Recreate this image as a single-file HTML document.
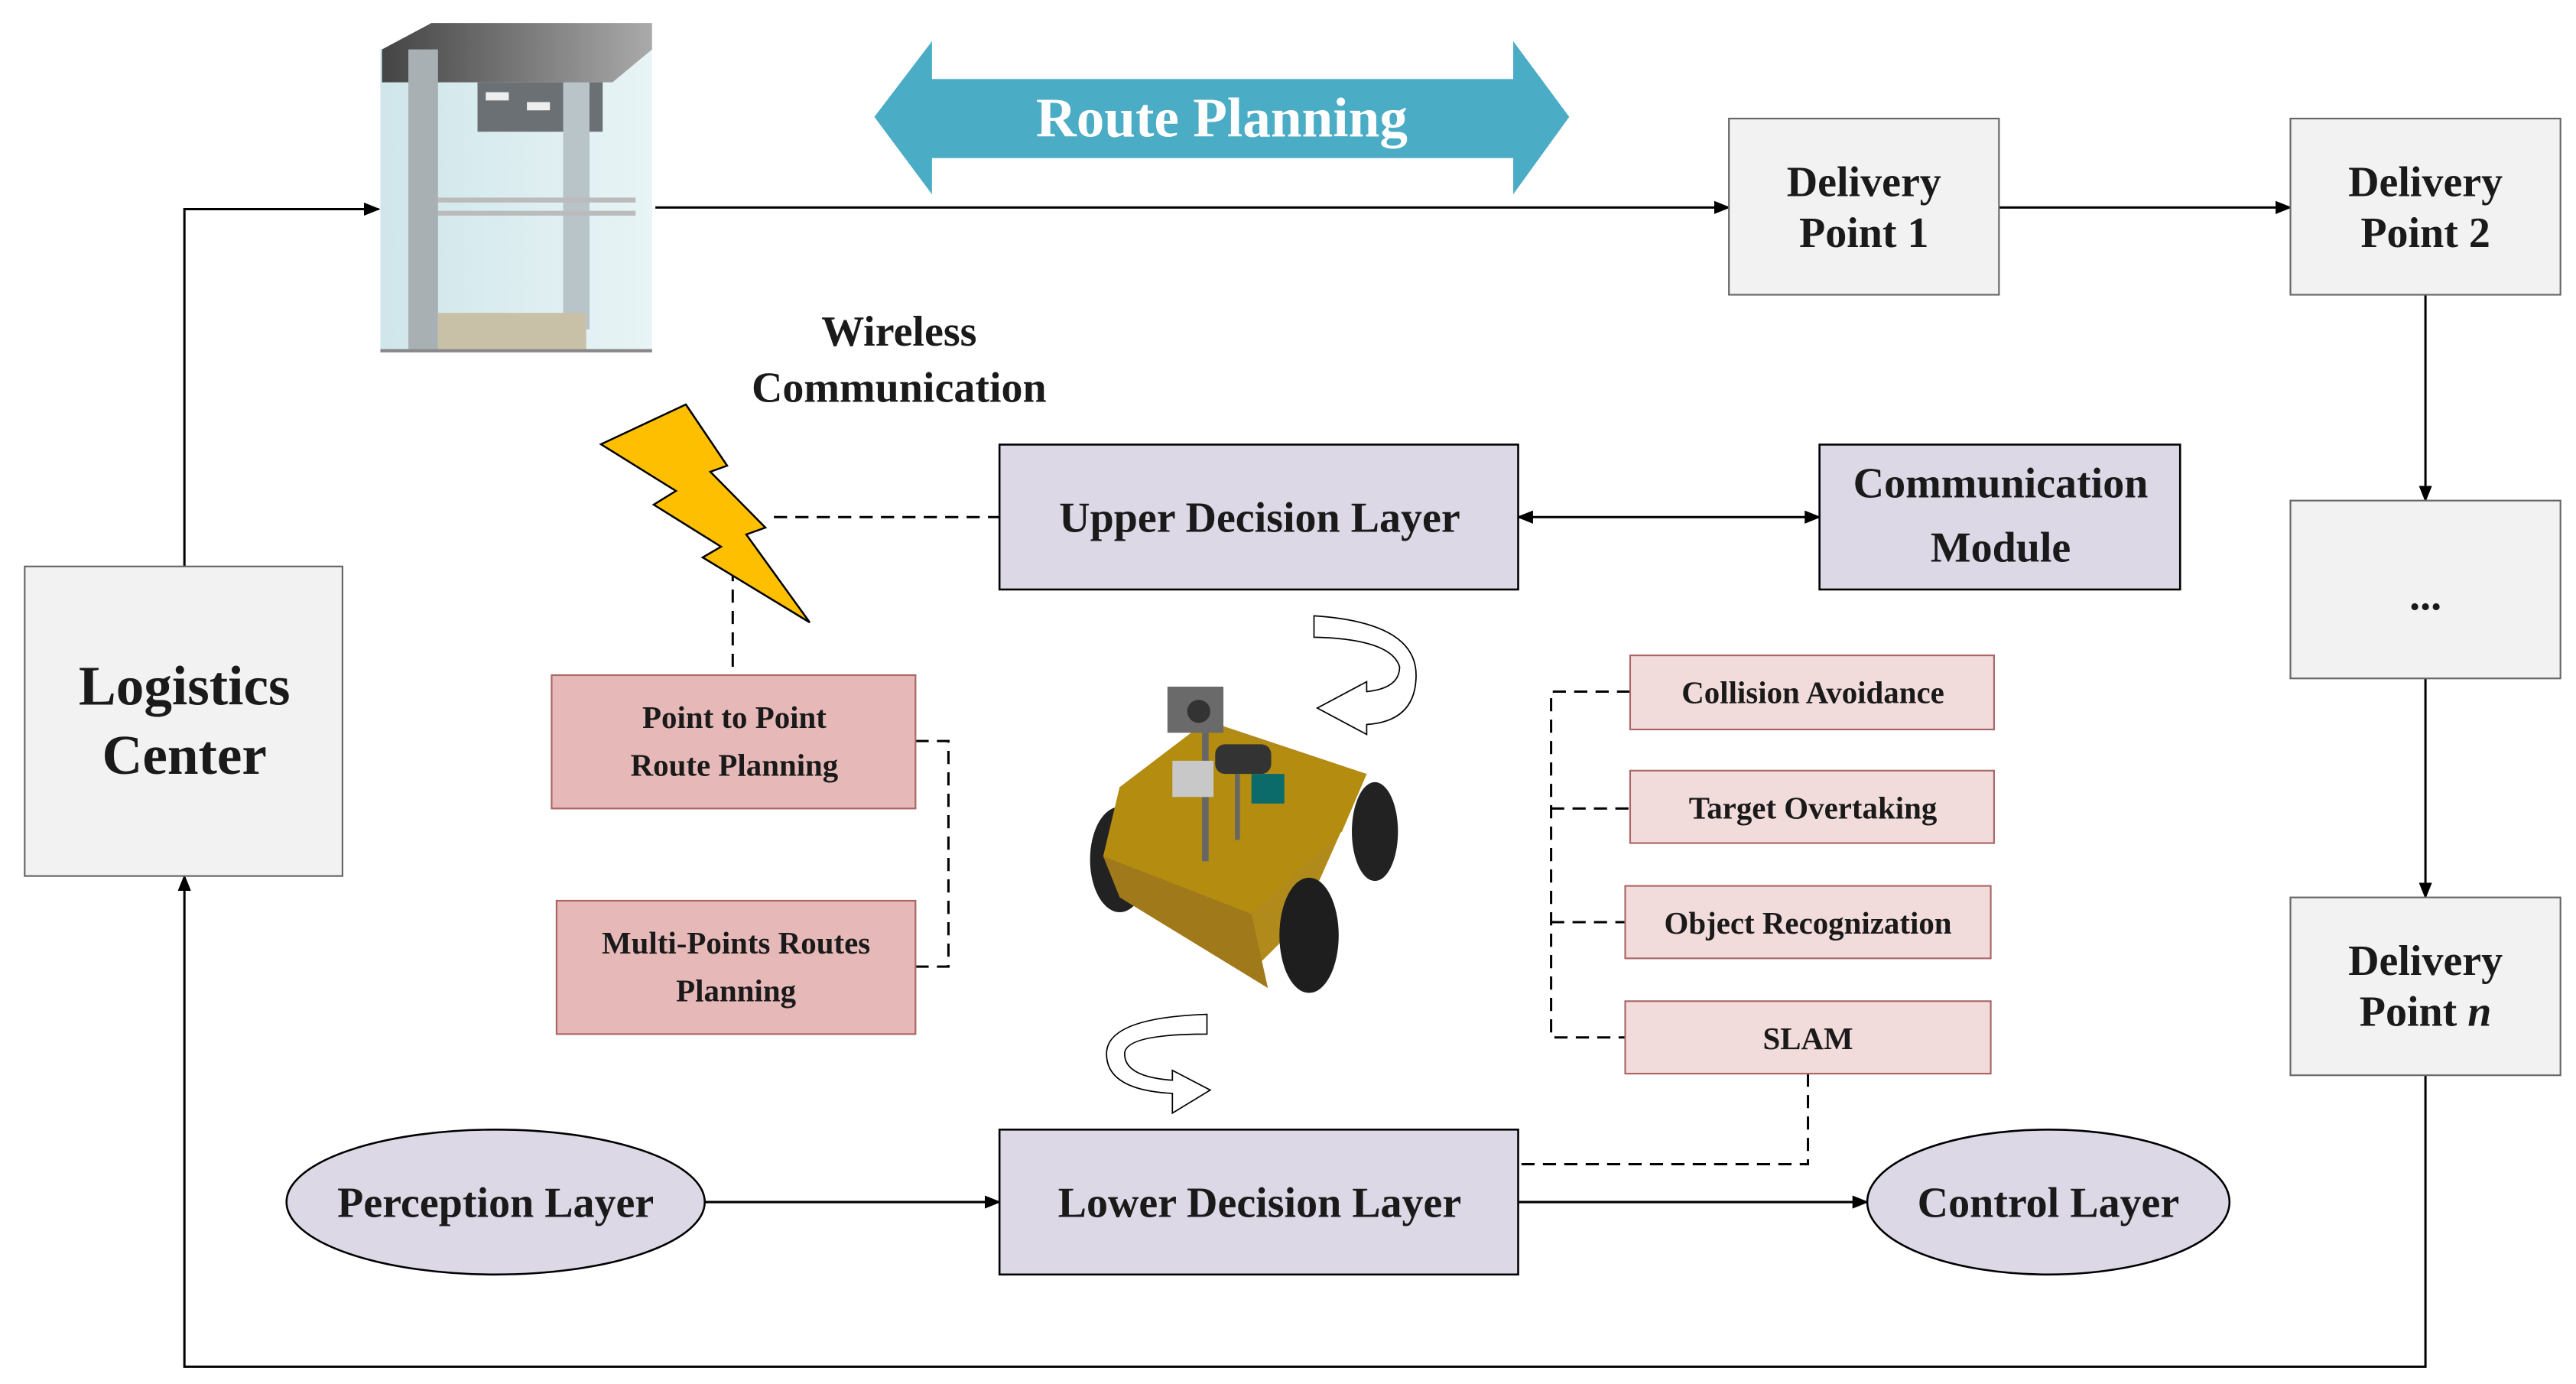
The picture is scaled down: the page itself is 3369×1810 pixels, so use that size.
<!DOCTYPE html>
<html><head><meta charset="utf-8"><style>
html,body{margin:0;padding:0;background:#fff;}
svg{display:block;}
text{font-family:"Liberation Serif",serif;font-weight:bold;fill:#1a1a1a;}
</style></head><body>
<svg width="3369" height="1810" viewBox="0 0 3369 1810" xmlns="http://www.w3.org/2000/svg">
<defs>
<marker id="ar" markerWidth="10" markerHeight="8" refX="9" refY="4" orient="auto" markerUnits="userSpaceOnUse"><path d="M0,0 L10,4 L0,8 z" fill="#000"/></marker>
<marker id="al" markerWidth="10" markerHeight="8" refX="1" refY="4" orient="auto" markerUnits="userSpaceOnUse"><path d="M10,0 L0,4 L10,8 z" fill="#000"/></marker>
<linearGradient id="gl" x1="0" x2="1"><stop offset="0" stop-color="#cfe6ea"/><stop offset="1" stop-color="#e8f4f6"/></linearGradient>
<linearGradient id="rf" x1="0" x2="1"><stop offset="0" stop-color="#444"/><stop offset="1" stop-color="#aaa"/></linearGradient>
</defs>
<g transform="scale(2.1535)">
<rect x="231" y="30" width="165" height="183" fill="url(#gl)"/>
<polygon points="232,30 262,14 396,14 396,30 372,50 232,50" fill="url(#rf)"/>
<rect x="290" y="50" width="76" height="30" fill="#6a7074"/>
<rect x="295" y="56" width="14" height="5" fill="#eee"/>
<rect x="320" y="62" width="14" height="5" fill="#eee"/>
<rect x="248" y="30" width="18" height="182" fill="#a8b0b4"/>
<rect x="342" y="50" width="16" height="150" fill="#b8c4c8"/>
<rect x="266" y="120" width="120" height="3" fill="#bbb"/>
<rect x="266" y="128" width="120" height="3" fill="#bbb"/>
<rect x="266" y="190" width="90" height="22" fill="#c9c0a8"/>
<rect x="231" y="212" width="165" height="2" fill="#888"/>
<polygon points="531,71 566,25 566,48 919,48 919,25 953,71 919,118 919,96 566,96 566,118" fill="#4bacc6"/>
<text x="742" y="83" font-size="34" text-anchor="middle" style="fill:#fff">Route Planning</text>
<g stroke="#000" stroke-width="1.4" fill="none">
<line x1="398" y1="126" x2="1050" y2="126" marker-end="url(#ar)"/>
<line x1="1214" y1="126" x2="1391" y2="126" marker-end="url(#ar)"/>
<line x1="1473" y1="179" x2="1473" y2="304" marker-end="url(#ar)"/>
<line x1="1473" y1="412" x2="1473" y2="545" marker-end="url(#ar)"/>
<polyline points="1473,653 1473,830 112,830 112,532" marker-end="url(#ar)"/>
<polyline points="112,344 112,127 230,127" marker-end="url(#ar)"/>
<line x1="922" y1="314" x2="1105" y2="314" marker-start="url(#al)" marker-end="url(#ar)"/>
<line x1="428" y1="730" x2="607" y2="730" marker-end="url(#ar)"/>
<line x1="922" y1="730" x2="1134" y2="730" marker-end="url(#ar)"/>
</g>
<g stroke="#000" stroke-width="1.4" fill="none" stroke-dasharray="8,5">
<line x1="470" y1="314" x2="607" y2="314"/>
<line x1="445" y1="345" x2="445" y2="410"/>
<polyline points="556,450 576,450 576,587 556,587"/>
<polyline points="990,420 942,420 942,630 987,630"/>
<line x1="942" y1="491" x2="990" y2="491"/>
<line x1="942" y1="560" x2="987" y2="560"/>
<polyline points="1098,652 1098,707 922,707"/>
</g>
<g stroke="#666" stroke-width="1">
<rect x="1050" y="72" width="164" height="107" fill="#f2f2f2"/>
<rect x="1391" y="72" width="164" height="107" fill="#f2f2f2"/>
<rect x="1391" y="304" width="164" height="108" fill="#f2f2f2"/>
<rect x="1391" y="545" width="164" height="108" fill="#f2f2f2"/>
<rect x="15" y="344" width="193" height="188" fill="#f2f2f2"/>
</g>
<g stroke="#000" stroke-width="1.2">
<rect x="607" y="270" width="315" height="88" fill="#dcd8e6"/>
<rect x="1105" y="270" width="219" height="88" fill="#dcd8e6"/>
<rect x="607" y="686" width="315" height="88" fill="#dcd8e6"/>
<ellipse cx="301" cy="730" rx="127" ry="44" fill="#dcd8e6"/>
<ellipse cx="1244" cy="730" rx="110" ry="44" fill="#dcd8e6"/>
</g>
<g stroke="#a66" stroke-width="1">
<rect x="335" y="410" width="221" height="81" fill="#e6b9b8"/>
<rect x="338" y="547" width="218" height="81" fill="#e6b9b8"/>
<rect x="990" y="398" width="221" height="45" fill="#f2dcdb"/>
<rect x="990" y="468" width="221" height="44" fill="#f2dcdb"/>
<rect x="987" y="538" width="222" height="44" fill="#f2dcdb"/>
<rect x="987" y="608" width="222" height="44" fill="#f2dcdb"/>
</g>
<ellipse cx="680" cy="522" rx="18" ry="32" fill="#222"/>
<ellipse cx="835" cy="505" rx="14" ry="30" fill="#222"/>
<polygon points="670,520 680,478 740,440 830,470 790,560 760,590" fill="#b08a1a"/>
<polygon points="680,478 730,440 830,470 815,505 760,555 670,520" fill="#b38c10"/>
<polygon points="670,520 760,555 770,600 680,545" fill="#a07a1a"/>
<ellipse cx="795" cy="568" rx="18" ry="35" fill="#1e1e1e"/>
<rect x="709" y="417" width="34" height="28" fill="#6a6a6a"/>
<circle cx="728" cy="432" r="7" fill="#333"/>
<rect x="730" y="445" width="4" height="78" fill="#666"/>
<rect x="712" y="462" width="25" height="22" fill="#c8c8c8"/>
<rect x="738" y="452" width="34" height="18" rx="6" fill="#333"/>
<rect x="760" y="470" width="20" height="18" fill="#0b6b6b"/>
<rect x="750" y="470" width="3" height="40" fill="#666"/>
<path d="M798,374 Q860,378 860,410 Q860,438 830,440 L830,446 L800,430 L830,414 L830,420 Q850,418 850,405 Q845,388 798,387 Z" fill="#fff" stroke="#000" stroke-width="0.8"/>
<path d="M733,616 Q672,618 672,640 Q672,662 712,664 L712,676 L735,662 L712,650 L712,656 Q683,654 683,640 Q683,628 733,628 Z" fill="#fff" stroke="#000" stroke-width="0.8"/>
<g font-size="26" text-anchor="middle">
<text x="1132" y="119">Delivery</text><text x="1132" y="150">Point 1</text>
<text x="1473" y="119">Delivery</text><text x="1473" y="150">Point 2</text>
<text x="1473" y="370">...</text>
<text x="1473" y="592">Delivery</text><text x="1473" y="623">Point <tspan font-style="italic">n</tspan></text>
<text x="546" y="210">Wireless</text><text x="546" y="244">Communication</text>
<text x="765" y="323">Upper Decision Layer</text>
<text x="1215" y="302">Communication</text><text x="1215" y="341">Module</text>
<text x="765" y="739">Lower Decision Layer</text>
<text x="301" y="739">Perception Layer</text>
<text x="1244" y="739">Control Layer</text>
</g>
<g font-size="34" text-anchor="middle">
<text x="112" y="428">Logistics</text><text x="112" y="470">Center</text>
</g>
<g font-size="19" text-anchor="middle">
<text x="446" y="442">Point to Point</text><text x="446" y="471">Route Planning</text>
<text x="447" y="579">Multi-Points Routes</text><text x="447" y="608">Planning</text>
<text x="1101" y="427">Collision Avoidance</text>
<text x="1101" y="497">Target Overtaking</text>
<text x="1098" y="567">Object Recognization</text>
<text x="1098" y="637">SLAM</text>
</g>
</g>
<polygon points="786,581 897,529 951,609 929,617 1001,690 976,699 1059,814 919,729 943,715 855,660 884,642" fill="#fdbf00" stroke="#000" stroke-width="2.5" stroke-linejoin="miter"/>
</svg>
</body></html>
